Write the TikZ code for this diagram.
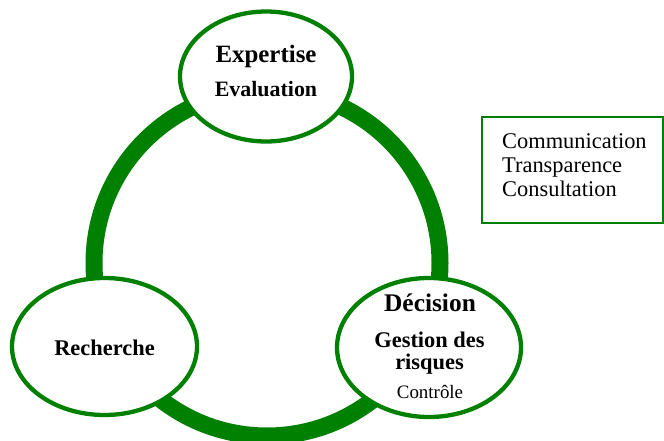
\documentclass[tikz,border=0pt]{standalone}
\usepackage{fontspec}
\setmainfont{Liberation Serif}
\usetikzlibrary{shapes.geometric}
\definecolor{ringgreen}{RGB}{0,128,0}
\begin{document}
\begin{tikzpicture}[x=1bp,y=-1bp,
  bubble/.style={draw=ringgreen,fill=white,line width=4.3bp,ellipse,inner sep=0pt},
  lbl/.style={anchor=base,inner sep=0pt,text=black},
  boxtxt/.style={anchor=base west,inner sep=0pt,text=black,font=\fontsize{22.5}{24}\selectfont}
]
\useasboundingbox (0,0) rectangle (664,441);
% big ring
\draw[ringgreen,line width=17bp] (267,263) circle[radius=173];
% bubbles
\node[bubble,minimum width=172bp,minimum height=130bp] (top) at (266,76.5) {};
\node[bubble,minimum width=185bp,minimum height=137bp] (left) at (104.5,346.5) {};
\node[bubble,minimum width=184bp,minimum height=139bp] (right) at (429,347.5) {};
% texts
\node[lbl,font=\bfseries\fontsize{25}{28}\selectfont] (t1) at (266,63) {Expertise};
\node[lbl,font=\bfseries\fontsize{22}{26}\selectfont] (t2) at (266,97) {Evaluation};
\node[lbl,font=\bfseries\fontsize{22.5}{26}\selectfont] (t3) at (104.5,355) {Recherche};
\node[lbl,font=\bfseries\fontsize{25.5}{28}\selectfont] (t4) at (430,312) {Décision};
\node[lbl,align=center,font=\bfseries\fontsize{22.5}{21.5}\selectfont] (t5) at (429.5,369) {Gestion des\\risques};
\node[lbl,font=\fontsize{19}{22}\selectfont] (t7) at (430,398) {Contrôle};
% side box
\draw[ringgreen,line width=1.5bp] (482,117) rectangle (663,223);
\node[boxtxt] (c1) at (502,149) {Communication};
\node[boxtxt] (c2) at (502,172.5) {Transparence};
\node[boxtxt] (c3) at (502,196.5) {Consultation};
\end{tikzpicture}
\end{document}
